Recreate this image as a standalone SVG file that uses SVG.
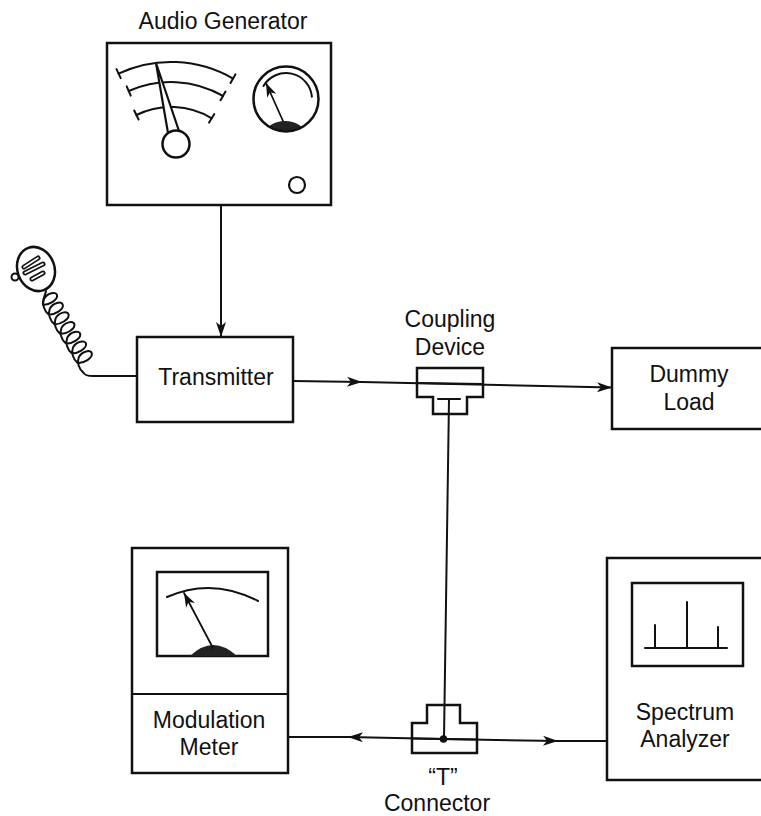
<svg xmlns="http://www.w3.org/2000/svg" width="761" height="816" viewBox="0 0 761 816">
  <style>
    .lbl { font-family: "Liberation Sans", Arial, sans-serif; font-size: 23px; fill: #111; text-anchor: middle; }
    .box { fill: #fff; stroke: #111; stroke-width: 2.5; }
    .ln { fill: none; stroke: #111; stroke-width: 2; stroke-linecap: round; stroke-linejoin: round; }
    .thin { fill: none; stroke: #111; stroke-width: 1.8; stroke-linecap: round; }
    .dark { fill: #222; stroke: none; }
  </style>
  <defs>
    <marker id="arr" viewBox="-16 -6 17 12" refX="0" refY="0" markerWidth="17" markerHeight="12" markerUnits="userSpaceOnUse" orient="auto">
      <path d="M0,0 L-15,-5 L-11,0 L-15,5 Z" fill="#111"/>
    </marker>
    <marker id="tip" viewBox="-15 -6 16 12" refX="0" refY="0" markerWidth="16" markerHeight="12" markerUnits="userSpaceOnUse" orient="auto">
      <path d="M0,0 L-14,-5 L-10,0 L-14,5 Z" fill="#111"/>
    </marker>
    <clipPath id="dialClip">
      <circle cx="286" cy="99" r="32"/>
    </clipPath>
  </defs>

  <rect width="761" height="816" fill="#fff"/>

  <!-- signal paths -->
  <g id="connectors">
    <line class="ln" x1="221" y1="205" x2="221" y2="337" marker-end="url(#arr)"/>
    <line class="ln" x1="293" y1="381" x2="362" y2="382" marker-end="url(#arr)"/>
    <line class="ln" x1="362" y1="382" x2="612" y2="387.5" marker-end="url(#arr)"/>
    <line class="ln" x1="449" y1="399" x2="444" y2="739"/>
    <line class="ln" x1="443" y1="739" x2="348" y2="737" marker-end="url(#arr)"/>
    <line class="ln" x1="348" y1="737" x2="288" y2="737"/>
    <line class="ln" x1="443" y1="739" x2="558" y2="741" marker-end="url(#arr)"/>
    <line class="ln" x1="558" y1="741" x2="607" y2="741"/>
  </g>

  <!-- audio generator with scale meter, round dial and knob -->
  <g id="audio-generator">
    <text class="lbl" x="223" y="29">Audio Generator</text>
    <rect class="box" x="107" y="43" width="224" height="162"/>
    <path class="ln" d="M118.6,73.6 A124,124 0 0 1 233,78.6" stroke-width="2.4"/>
    <path class="ln" d="M128.7,91 A104,104 0 0 1 223,95.9" stroke-width="2.4"/>
    <path class="ln" d="M136.4,115 A79,79 0 0 1 211.7,118.3" stroke-width="2.4"/>
    <path class="ln" d="M116.5,69.1 L120.7,78.1 M235.5,74.3 L230.5,82.9 M126.7,86.4 L130.7,95.6 M225.5,91.6 L220.5,100.2 M134.2,110.5 L138.6,119.5 M214.3,114 L209.1,122.6"/>
    <polygon points="156,63 168,133 179,131" fill="#fff" stroke="#111" stroke-width="2.2" stroke-linejoin="round"/>
    <circle cx="176" cy="144" r="13.5" fill="#fff" stroke="#111" stroke-width="2.5"/>
    <ellipse class="dark" cx="285" cy="133" rx="19" ry="12" clip-path="url(#dialClip)"/>
    <circle cx="286" cy="99" r="32.5" fill="none" stroke="#111" stroke-width="2.5"/>
    <path class="ln" d="M263.5,86 A26,26 0 0 1 311.9,96.7" stroke-width="2.4"/>
    <line class="thin" x1="283" y1="121" x2="266" y2="83" stroke-width="2.2" marker-end="url(#tip)"/>
    <circle cx="297" cy="185" r="8" fill="none" stroke="#111" stroke-width="2.2"/>
  </g>

  <!-- hand microphone on a coiled cord -->
  <g id="microphone">
    <ellipse cx="36" cy="269" rx="18.5" ry="22.5" transform="rotate(-20 36 269)" fill="#fff" stroke="#111" stroke-width="2.5"/>
    <circle cx="15" cy="277" r="3.5" fill="#fff" stroke="#111" stroke-width="2"/>
    <path d="M24,267 L38,258 M25,273 L43,264 M32,279 L43,273" stroke="#111" stroke-width="5" stroke-linecap="round"/>
    <path d="M24,267 L38,258 M25,273 L43,264 M32,279 L43,273" stroke="#fff" stroke-width="1.6" stroke-linecap="round"/>
    <path class="ln" d="M46,291 C45,296 42,300 43,305
      c 6,0 15,-5 14,-10 c -1,-4 -10,-2 -13,4 c -2,5 0,12 4.8,15.7
      c 6,0 15,-5 14,-10 c -1,-4 -10,-2 -13,4 c -2,5 0,12 4.8,15.7
      c 6,0 15,-5 14,-10 c -1,-4 -10,-2 -13,4 c -2,5 0,12 4.8,15.7
      c 6,0 15,-5 14,-10 c -1,-4 -10,-2 -13,4 c -2,5 0,12 4.8,15.7
      c 6,0 15,-5 14,-10 c -1,-4 -10,-2 -13,4 c -2,5 0,12 4.8,15.7
      c 6,0 15,-5 14,-10 c -1,-4 -10,-2 -13,4 c -2,5 0,12 4.8,15.7
      c 6,0 15,-5 14,-10 c -1,-4 -10,-2 -13,4 c -2,5 0,12 4.8,15.7
      C85,375.5 88,376 93,376 L137,376"/>
  </g>

  <g id="transmitter">
    <rect class="box" x="137" y="337" width="156" height="85"/>
    <text class="lbl" x="216" y="385">Transmitter</text>
  </g>

  <g id="coupling-device">
    <text class="lbl" x="450" y="327">Coupling</text>
    <text class="lbl" x="450" y="355">Device</text>
    <path d="M417,368 H483 V397 H467 V414 H433 V397 H417 Z" fill="none" stroke="#111" stroke-width="2.5" stroke-linejoin="miter"/>
    <line class="ln" x1="417" y1="383" x2="483" y2="384"/>
    <line class="ln" x1="438" y1="399" x2="460" y2="399"/>
  </g>

  <g id="dummy-load">
    <rect class="box" x="612" y="348" width="170" height="81"/>
    <text class="lbl" x="689" y="382">Dummy</text>
    <text class="lbl" x="689" y="410">Load</text>
  </g>

  <g id="modulation-meter">
    <rect class="box" x="132" y="548" width="156" height="225"/>
    <line class="ln" x1="132" y1="694" x2="288" y2="694" stroke-width="2.5"/>
    <rect x="157" y="572" width="111" height="84" fill="none" stroke="#111" stroke-width="2.5"/>
    <path class="ln" d="M167,597 Q212,577 258,601" stroke-width="2.5"/>
    <path class="dark" d="M190,656 Q213,634 237,656 Z"/>
    <line class="thin" x1="213" y1="648" x2="184" y2="593" stroke-width="2.2" marker-end="url(#tip)"/>
    <text class="lbl" x="209" y="728">Modulation</text>
    <text class="lbl" x="209" y="755">Meter</text>
  </g>

  <g id="t-connector">
    <path d="M412,723 H427 V705 H460 V723 H477 V753 H412 Z" fill="none" stroke="#111" stroke-width="2.5"/>
    <line class="ln" x1="412" y1="738.5" x2="477" y2="739.5"/>
    <circle cx="443.5" cy="739" r="3.8" fill="#111"/>
    <text class="lbl" x="443" y="785">“T”</text>
    <text class="lbl" x="437" y="811">Connector</text>
  </g>

  <g id="spectrum-analyzer">
    <rect class="box" x="607" y="558" width="170" height="222"/>
    <rect x="632" y="583" width="111" height="83" fill="none" stroke="#111" stroke-width="2.5"/>
    <path class="ln" d="M645,648 H727 M655,648 V625 M687,648 V602 M718,648 V627" stroke-width="2.2"/>
    <text class="lbl" x="685" y="720">Spectrum</text>
    <text class="lbl" x="685" y="747">Analyzer</text>
  </g>
</svg>
